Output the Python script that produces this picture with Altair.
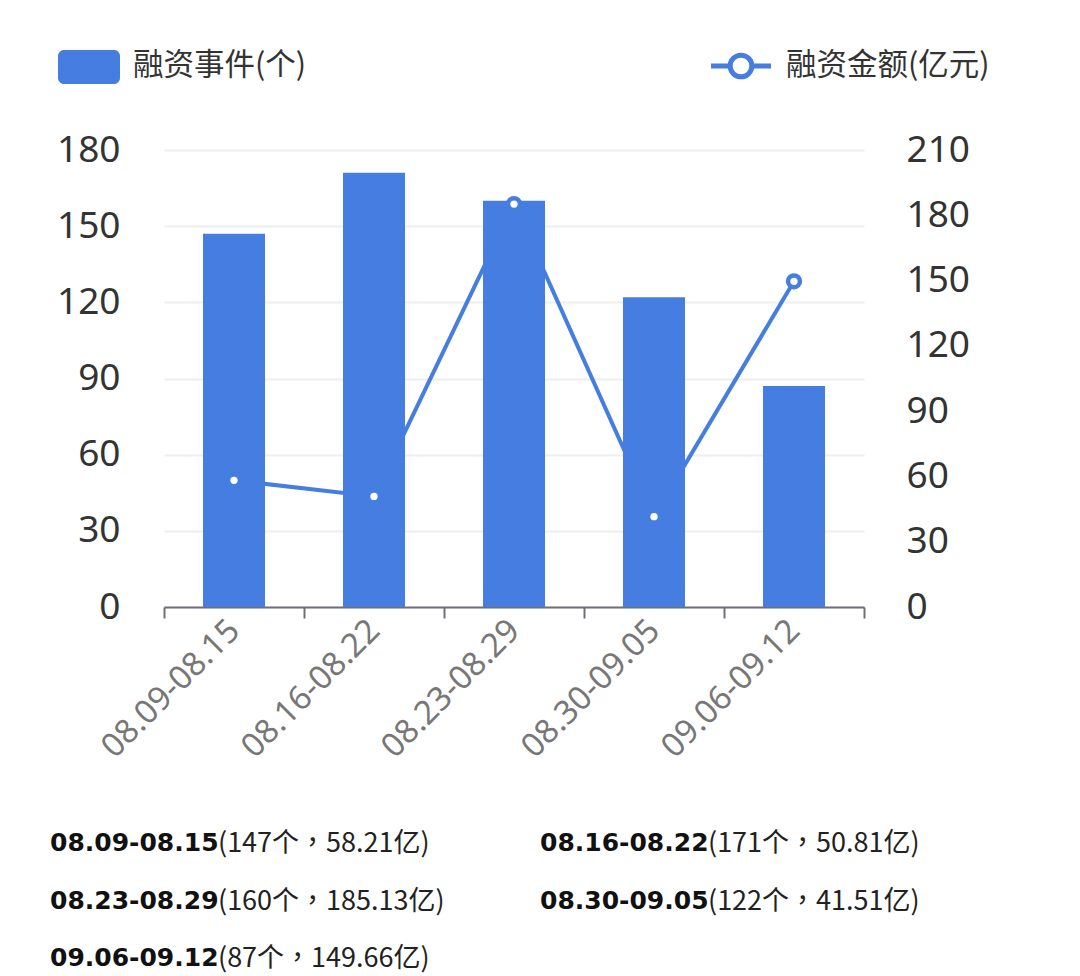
import altair as alt
import pandas as pd

categories = ["08.09-08.15", "08.16-08.22", "08.23-08.29", "08.30-09.05", "09.06-09.12"]
events = [147, 171, 160, 122, 87]
amounts = [58.21, 50.81, 185.13, 41.51, 149.66]
left_ticks = [0, 30, 60, 90, 120, 150, 180]
right_ticks = [0, 30, 60, 90, 120, 150, 180, 210]
series_names = ["融资事件(个)", "融资金额(亿元)"]

df = pd.DataFrame({"week": categories, "events": events, "amount": amounts})
one = pd.DataFrame({"k": [0]})

BLUE = "#457de0"
AXIS_GRAY = "#6e7079"
W, H = 700, 457

x_enc = alt.X(
    "week:N", sort=categories,
    scale=alt.Scale(paddingInner=0, paddingOuter=0),
    axis=alt.Axis(title=None, labelAngle=315, labelAlign="right", labelBaseline="middle",
                  tickBand="extent", tickSize=11, tickWidth=2, tickColor=AXIS_GRAY,
                  domainColor=AXIS_GRAY, domainWidth=2, labelColor="#777777",
                  labelFontSize=33, labelFont="Noto Sans", labelPadding=7, grid=False),
)

bars = alt.Chart(df).mark_bar(width=62, color=BLUE).encode(
    x=x_enc,
    y=alt.Y("events:Q", scale=alt.Scale(domain=[0, 180], nice=False),
            axis=alt.Axis(title=None, values=left_ticks, orient="left", domain=False, ticks=False,
                          labelFontSize=37, labelColor="#333333", labelFont="Noto Sans",
                          labelPadding=44, grid=True, gridColor="#eeeeee", gridWidth=2)),
)

y2 = alt.Y("amount:Q", scale=alt.Scale(domain=[0, 210], nice=False),
           axis=alt.Axis(title=None, values=right_ticks, orient="right", domain=False, ticks=False,
                         labelFontSize=37, labelColor="#333333", labelFont="Noto Sans",
                         labelPadding=42, grid=False))

line = alt.Chart(df).mark_line(color=BLUE, strokeWidth=4).encode(x=x_enc, y=y2)
pts = alt.Chart(df).mark_point(shape="circle", filled=True, fill="white", stroke=BLUE,
                               strokeWidth=4.5, size=140, opacity=1).encode(x=x_enc, y=y2)
right = alt.layer(line, pts)

# legend
leg_rect = alt.Chart(one).mark_rect(color=BLUE, cornerRadius=6).encode(
    x=alt.value(-106), x2=alt.value(-44), y=alt.value(-100), y2=alt.value(-66))
leg_t1 = alt.Chart(one).mark_text(align="left", baseline="middle", fontSize=30.5,
                                  font="Noto Sans CJK SC", color="#333333").encode(
    x=alt.value(-31), y=alt.value(-84), text=alt.value(series_names[0]))
leg_line = alt.Chart(one).mark_rule(color=BLUE, strokeWidth=5).encode(
    x=alt.value(547), x2=alt.value(607), y=alt.value(-84))
leg_pt = alt.Chart(one).mark_point(shape="circle", filled=True, fill="white", stroke=BLUE,
                                   strokeWidth=5, size=470, opacity=1).encode(
    x=alt.value(577), y=alt.value(-84))
leg_t2 = alt.Chart(one).mark_text(align="left", baseline="middle", fontSize=30.5,
                                  font="Noto Sans CJK SC", color="#333333").encode(
    x=alt.value(622), y=alt.value(-84), text=alt.value(series_names[1]))

# bottom annotations
col_x = [-114, 376]
row_y = [693, 751, 808]
notes = []
for i, (c, e, a) in enumerate(zip(categories, events, amounts)):
    xx = col_x[i % 2]
    yy = row_y[i // 2]
    notes.append(alt.Chart(one).mark_text(align="left", baseline="middle", fontSize=25,
                                          font="DejaVu Sans", fontWeight="bold", color="#111111").encode(
        x=alt.value(xx), y=alt.value(yy), text=alt.value(c)))
    notes.append(alt.Chart(one).mark_text(align="left", baseline="middle", fontSize=27,
                                          font="Noto Sans CJK TC", color="#222222").encode(
        x=alt.value(xx + 168), y=alt.value(yy + 1), text=alt.value(f"({e}个，{a:.2f}亿)")))

chart = alt.layer(bars, right, leg_rect, leg_t1, leg_line, leg_pt, leg_t2, *notes).resolve_scale(
    y="independent"
).properties(
    width=W, height=H,
    background="white",
    autosize=alt.AutoSizeParams(type="none"),
    padding={"left": 156, "top": 142, "right": 208, "bottom": 369},
).configure_view(strokeWidth=0, stroke="transparent")

chart.save("out.html", embed_options={"renderer": "svg", "actions": False})
